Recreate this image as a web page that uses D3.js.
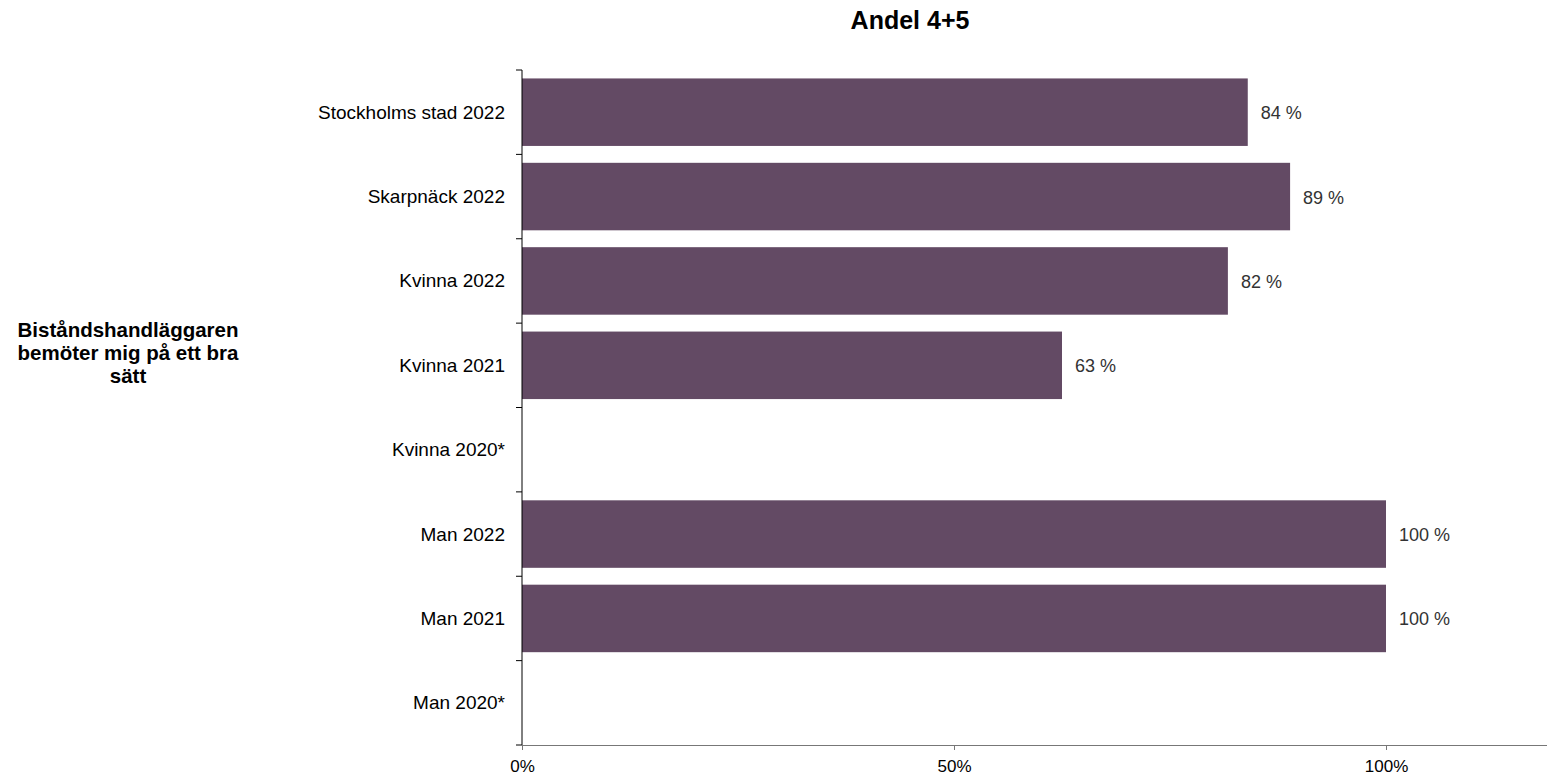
<!DOCTYPE html>
<html><head><meta charset="utf-8">
<script src="https://cdn.jsdelivr.net/npm/d3@7"></script>
<style>body{margin:0;background:#fff;} svg{display:block;font-family:Arial,"Liberation Sans",sans-serif;}</style>
</head><body>
<script>
const categories = ["Stockholms stad 2022","Skarpnäck 2022","Kvinna 2022","Kvinna 2021","Kvinna 2020*","Man 2022","Man 2021","Man 2020*"];
const values = [84, 88.9, 81.7, 62.5, null, 100, 100, null];
const xTicks = [0, 50, 100];
const title = "Andel 4+5";
const groupLabel = ["Biståndshandläggaren","bemöter mig på ett bra","sätt"];

(function(){
const W = 1547, H = 776;
const svg = d3.select("body").append("svg").attr("width", W).attr("height", H);
const mLeft = 522, mTop = 70, mBottom = 745;
const x = d3.scaleLinear().domain([0, 120]).range([mLeft, mLeft + 120 * 8.64]);
const y = d3.scaleBand().domain(categories).range([mTop, mBottom]).paddingInner(0.2).paddingOuter(0.1);

svg.append("text").attr("x", 910).attr("y", 29).attr("text-anchor", "middle")
  .attr("font-weight", "bold").attr("font-size", 25).attr("fill", "#000").text(title);

const gl = svg.append("text").attr("text-anchor", "middle").attr("font-weight", "bold").attr("font-size", 20.5).attr("fill", "#000");
groupLabel.forEach((t, i) => gl.append("tspan").attr("x", 128).attr("y", 337 + i * 23).text(t));

const data = categories.map((c, i) => ({c, v: values[i]})).filter(d => d.v != null);
svg.append("g").selectAll("rect").data(data)
  .join("rect")
  .attr("x", x(0)).attr("y", d => y(d.c)).attr("width", d => x(d.v) - x(0)).attr("height", y.bandwidth())
  .attr("fill", "#634a64");

svg.append("g").selectAll("text").data(data)
  .join("text")
  .attr("x", d => x(d.v) + 13).attr("y", d => y(d.c) + y.bandwidth() / 2 + 7)
  .attr("font-size", 18).attr("fill", "#333").text(d => Math.round(d.v + 1e-9) + " %");

const yAxisG = svg.append("g");
yAxisG.append("line").attr("x1", mLeft).attr("x2", mLeft).attr("y1", mTop).attr("y2", mBottom).attr("stroke", "#000");
const bounds = categories.map(c => y(c) - y.step() * y.paddingInner() / 2).concat([mBottom]);
yAxisG.selectAll("line.tk").data(bounds).join("line").attr("class", "tk")
  .attr("x1", mLeft - 6).attr("x2", mLeft).attr("y1", d => d).attr("y2", d => d).attr("stroke", "#000");
yAxisG.selectAll("text").data(categories).join("text")
  .attr("x", 505).attr("y", c => y(c) + y.bandwidth() / 2 + 6.5).attr("text-anchor", "end")
  .attr("font-size", 19).attr("fill", "#000").text(c => c);

const xAxis = d3.axisBottom(x).tickValues(xTicks).tickFormat(d => d + "%").tickSize(5).tickSizeOuter(0);
const xg = svg.append("g").attr("transform", `translate(0,${mBottom})`).call(xAxis);
xg.select(".domain").attr("stroke", "#777");
xg.selectAll(".tick line").attr("stroke", "#777");
xg.selectAll(".tick text").attr("font-size", 17).attr("fill", "#000").attr("y", 15)
  .attr("font-family", "Arial,'Liberation Sans',sans-serif");
})();
</script>
</body></html>
